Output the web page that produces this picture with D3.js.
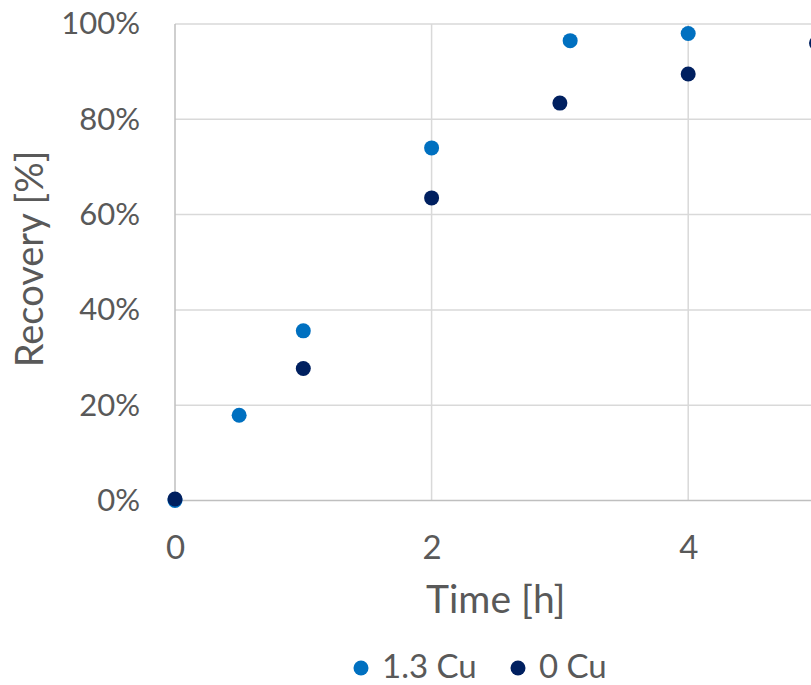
<!DOCTYPE html>
<html>
<head>
<meta charset="utf-8">
<script src="https://cdn.jsdelivr.net/npm/d3@7"></script>
<style>
  html, body { margin: 0; padding: 0; background: #fff; }
  svg { display: block; font-family: Lato, "Open Sans", sans-serif; }
</style>
</head>
<body>
<svg id="chart" width="811" height="685"></svg>
<script>
// Recovery over time for two copper levels
const seriesNames = ["1.3 Cu", "0 Cu"];
const seriesColors = ["#0070C0", "#002060"];
const timeHighCu = [0, 0.5, 1, 2, 3.08, 4];
const recoveryHighCu = [0, 17.9, 35.6, 74.0, 96.5, 98.0];
const timeNoCu = [0, 1, 2, 3, 4, 5];
const recoveryNoCu = [0.3, 27.7, 63.5, 83.4, 89.5, 96.0];
const xTicks = [0, 2, 4];
const yTicks = [0, 20, 40, 60, 80, 100];

const svg = d3.select("#chart");
const plotLeft = 175, plotRight = 816.5, plotTop = 24, plotBottom = 500.5;

const x = d3.scaleLinear().domain([0, 5]).range([plotLeft, plotRight]);
const y = d3.scaleLinear().domain([0, 100]).range([plotBottom, plotTop]);

const textColor = "#595959";

// gridlines
svg.append("g").selectAll("line").data(yTicks.filter(d => d > 0)).join("line")
  .attr("x1", plotLeft).attr("x2", plotRight)
  .attr("y1", d => y(d)).attr("y2", d => y(d))
  .attr("stroke", "#d9d9d9").attr("stroke-width", 1.5);
svg.append("g").selectAll("line").data(xTicks.filter(d => d > 0)).join("line")
  .attr("x1", d => x(d)).attr("x2", d => x(d))
  .attr("y1", plotTop).attr("y2", plotBottom)
  .attr("stroke", "#d9d9d9").attr("stroke-width", 1.5);

// axis lines
svg.append("line").attr("x1", plotLeft).attr("x2", plotLeft).attr("y1", plotTop).attr("y2", plotBottom)
  .attr("stroke", "#bfbfbf").attr("stroke-width", 1.5);
svg.append("line").attr("x1", plotLeft).attr("x2", plotRight).attr("y1", plotBottom).attr("y2", plotBottom)
  .attr("stroke", "#bfbfbf").attr("stroke-width", 1.5);

// y tick labels
const yAxis = d3.axisLeft(y).tickValues(yTicks).tickFormat(d => d + "%").tickSize(0).tickPadding(35);
const gy = svg.append("g").attr("transform", `translate(${plotLeft},0)`).call(yAxis);
gy.select(".domain").remove();
gy.selectAll("text").attr("fill", textColor).style("font-size", "31px")
  .style("font-family", "Lato, 'Open Sans', sans-serif");

// x tick labels
const xAxis = d3.axisBottom(x).tickValues(xTicks).tickFormat(d3.format("d")).tickSize(0).tickPadding(0);
const gx = svg.append("g").attr("transform", `translate(0,${plotBottom})`).call(xAxis);
gx.select(".domain").remove();
gx.selectAll("text").attr("fill", textColor).style("font-size", "33px")
  .style("font-family", "Lato, 'Open Sans', sans-serif")
  .attr("dy", null).attr("y", 58);

// axis titles
svg.append("text").attr("x", (plotLeft + plotRight) / 2).attr("y", 613)
  .attr("text-anchor", "middle").attr("fill", textColor).style("font-size", "39px")
  .text("Time [h]");
svg.append("text").attr("transform", `translate(43,259) rotate(-90)`)
  .attr("text-anchor", "middle").attr("fill", textColor).style("font-size", "38px")
  .text("Recovery [%]");

// points
const series = [
  { name: seriesNames[0], color: seriesColors[0], xs: timeHighCu, ys: recoveryHighCu },
  { name: seriesNames[1], color: seriesColors[1], xs: timeNoCu, ys: recoveryNoCu }
];
series.forEach(s => {
  svg.append("g").selectAll("circle").data(s.xs.map((t, i) => [t, s.ys[i]])).join("circle")
    .attr("cx", d => x(d[0])).attr("cy", d => y(d[1])).attr("r", 7.5)
    .attr("fill", s.color);
});

// legend
const legendItems = [
  { name: seriesNames[0], color: seriesColors[0], cx: 361 },
  { name: seriesNames[1], color: seriesColors[1], cx: 518 }
];
const lg = svg.append("g");
legendItems.forEach(it => {
  lg.append("circle").attr("cx", it.cx).attr("cy", 668).attr("r", 7.5).attr("fill", it.color);
  lg.append("text").attr("x", it.cx + 21).attr("y", 678).attr("fill", textColor)
    .style("font-size", "33px").text(it.name);
});
</script>
</body>
</html>
